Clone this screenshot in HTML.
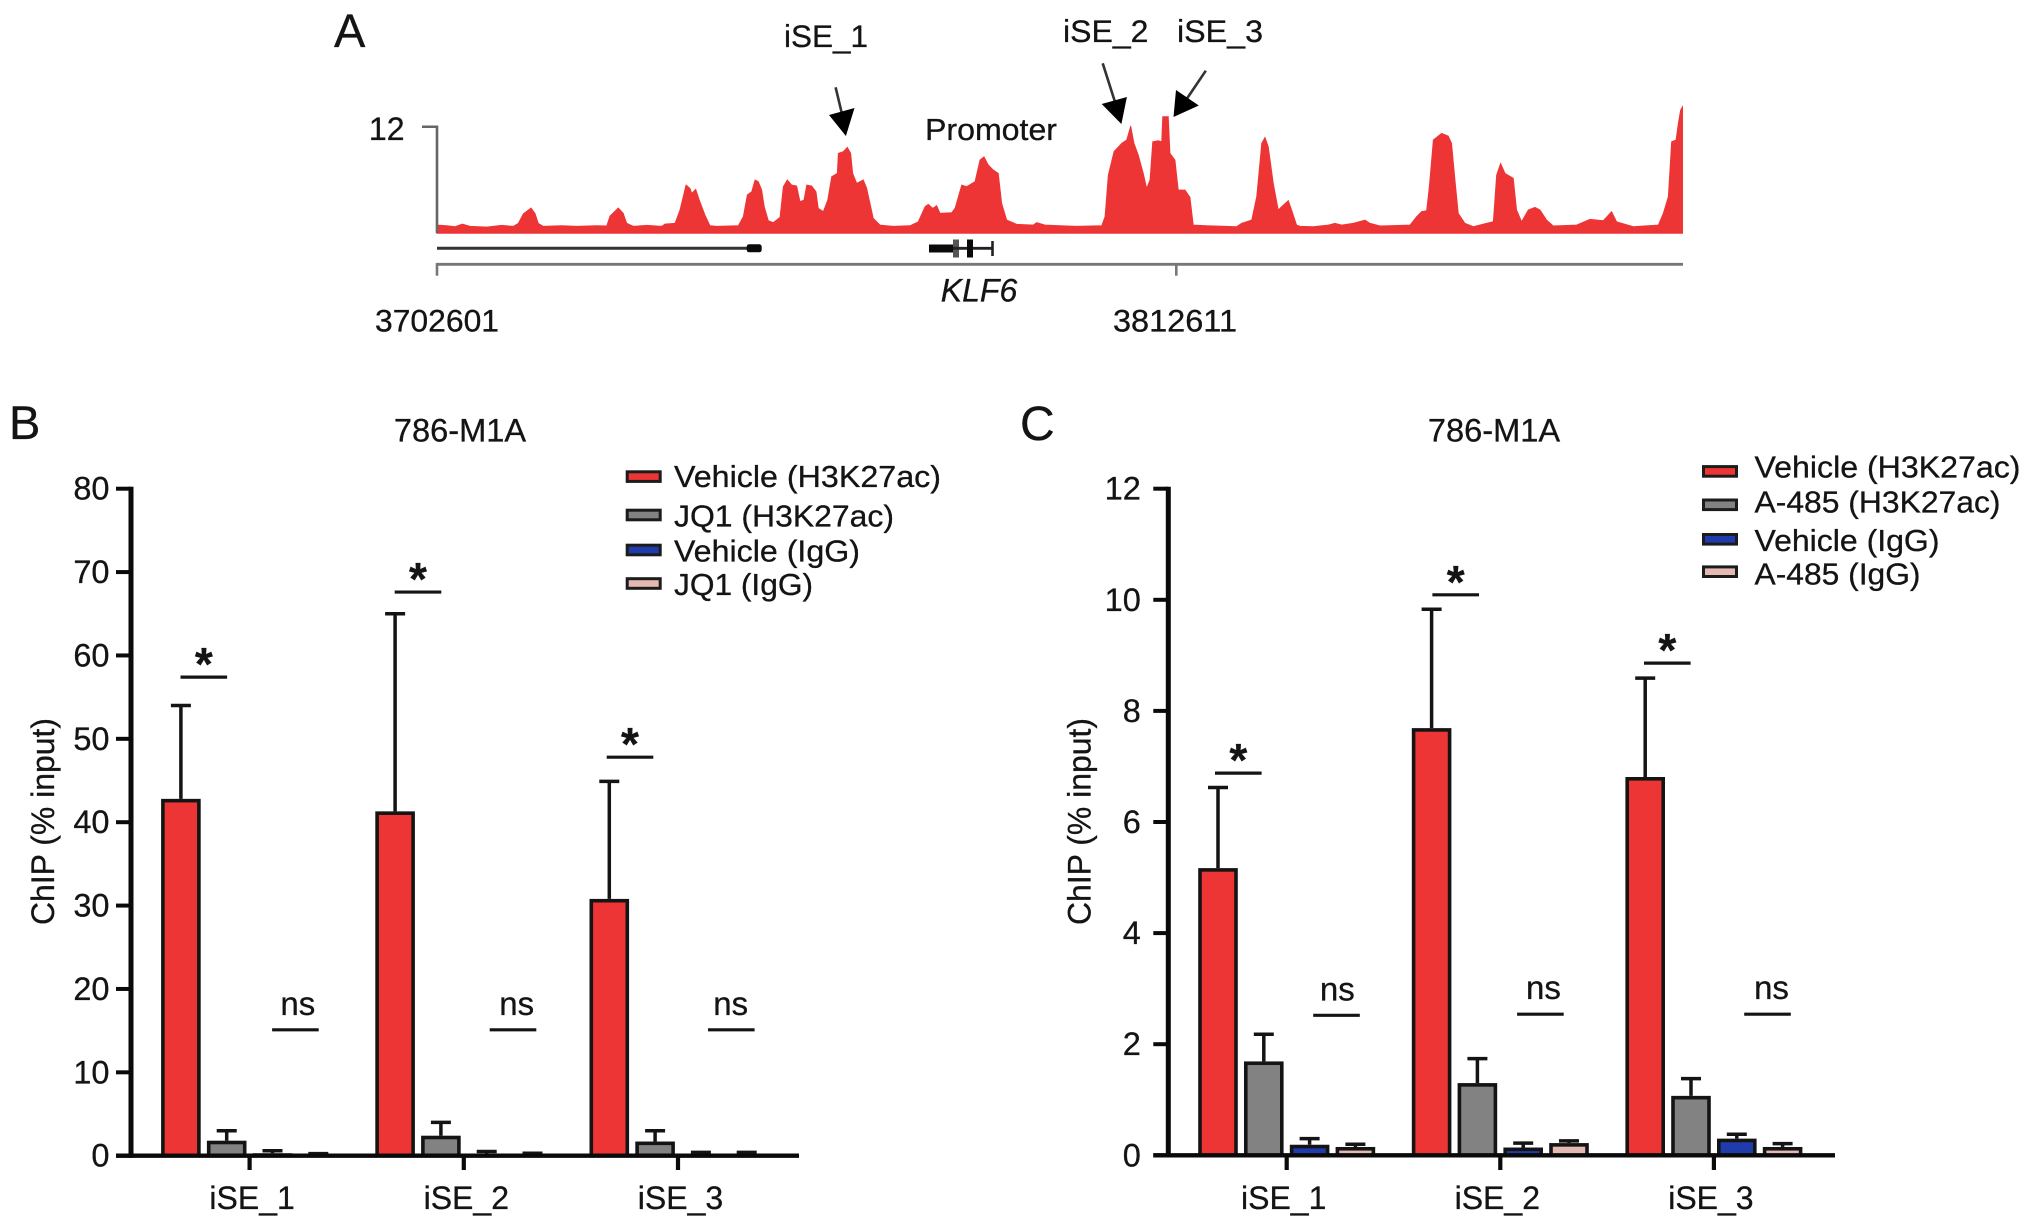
<!DOCTYPE html>
<html lang="en">
<head>
<meta charset="utf-8">
<title>KLF6 super-enhancer ChIP figure</title>
<style>
html,body{margin:0;padding:0;background:#fff;width:2032px;height:1226px;overflow:hidden}
svg{display:block}
text{font-family:"Liberation Sans",Arial,sans-serif;fill:#141414;stroke:#141414;stroke-width:.3px}
</style>
</head>
<body>
<svg id="figure" xmlns="http://www.w3.org/2000/svg" width="2032" height="1226" viewBox="0 0 2032 1226">
  <rect x="0" y="0" width="2032" height="1226" fill="#fff"/>

  <text x="334" y="47" font-size="47">A</text>
  <text x="9" y="439" font-size="47">B</text>
  <text x="1020" y="440" font-size="48">C</text>

  <g id="track-group">
    <text x="784" y="47" font-size="31.5" textLength="84" lengthAdjust="spacingAndGlyphs">iSE_1</text>
    <text x="1063" y="42" font-size="31.5" textLength="85.5" lengthAdjust="spacingAndGlyphs">iSE_2</text>
    <text x="1177" y="42" font-size="31.5" textLength="86" lengthAdjust="spacingAndGlyphs">iSE_3</text>
    <text x="925" y="140" font-size="31" textLength="132" lengthAdjust="spacingAndGlyphs">Promoter</text>

    <g>
      <line x1="835.6" y1="87.3" x2="842" y2="114" stroke="#333" stroke-width="2.6"/>
      <polygon points="845.9,136 829,115 854.5,108" fill="#000"/>
    </g>
    <g>
      <line x1="1102.7" y1="63.3" x2="1115" y2="102" stroke="#333" stroke-width="2.6"/>
      <polygon points="1121.4,124 1101.7,104 1126.9,97" fill="#000"/>
    </g>
    <g>
      <line x1="1205.8" y1="70.7" x2="1186" y2="100" stroke="#333" stroke-width="2.6"/>
      <polygon points="1173.5,117 1176,90 1198.8,105.5" fill="#000"/>
    </g>

    <g>
      <line x1="437" y1="248.3" x2="750" y2="248.3" stroke="#333" stroke-width="3"/>
      <rect x="746.7" y="244.3" width="15" height="8" rx="2.5" fill="#0a0a0a"/>
    </g>
    <g>
      <rect x="929" y="244.5" width="25" height="8" fill="#0a0a0a"/>
      <rect x="953" y="239.5" width="6" height="18" fill="#555"/>
      <line x1="953" y1="248.3" x2="992" y2="248.3" stroke="#222" stroke-width="2.8"/>
      <rect x="967" y="239.5" width="6" height="18" fill="#0a0a0a"/>
      <line x1="992.5" y1="241" x2="992.5" y2="256" stroke="#222" stroke-width="2.6"/>
    </g>

    <g>
      <line x1="437" y1="264.3" x2="1683" y2="264.3" stroke="#777" stroke-width="2.8"/>
      <line x1="437" y1="263" x2="437" y2="275.7" stroke="#777" stroke-width="2.6"/>
      <line x1="1176.3" y1="264" x2="1176.3" y2="275.7" stroke="#777" stroke-width="2.6"/>
    </g>
    <text x="437" y="331.7" font-size="31.5" text-anchor="middle" textLength="124" lengthAdjust="spacingAndGlyphs">3702601</text>
    <text x="1175" y="331.7" font-size="31.5" text-anchor="middle" textLength="124" lengthAdjust="spacingAndGlyphs">3812611</text>
    <text x="979" y="301.7" font-size="32" font-style="italic" text-anchor="middle">KLF6</text>
  </g>

  <g id="panel-b"></g>
  <g id="panel-c"></g>
</svg>

<script>
/* ---------- Panel A: coverage track data ---------- */
const trackStart = 3702601;
const trackMid = 3812611;
const trackBinSize = 49.6;
const trackMaxLabel = 12;
const trackBins = [0,29,54,76,99,149,194,229,244,259,282,294,304,319,374,419,479,509,519,544,559,569,589,629,674,684,714,729,747,759,764,776,787,804,819,839,904,919,931,944,954,964,974,982,994,1009,1029,1039,1051,1064,1079,1089,1101,1109,1124,1137,1144,1159,1172,1184,1201,1204,1219,1231,1241,1247,1259,1269,1279,1289,1299,1309,1329,1369,1419,1444,1464,1474,1487,1499,1509,1544,1554,1574,1589,1614,1629,1641,1654,1669,1684,1694,1709,1739,1789,1799,1824,1869,1919,1994,2004,2014,2031,2054,2069,2081,2091,2104,2119,2129,2139,2147,2164,2174,2177,2194,2199,2214,2224,2244,2259,2269,2309,2399,2414,2444,2459,2474,2484,2494,2509,2524,2539,2554,2564,2579,2589,2629,2674,2694,2714,2749,2784,2799,2829,2919,2939,2954,2969,2977,2989,3014,3034,3044,3054,3064,3084,3109,3149,3169,3179,3191,3204,3229,3239,3254,3274,3294,3309,3329,3349,3419,3459,3499,3524,3539,3589,3664,3679,3694,3704,3717,3724,3731,3737];
const trackCoverage = [0.94,0.86,0.75,1.05,0.79,0.71,0.90,0.79,1.13,2.18,2.85,2.25,1.13,0.79,0.86,0.79,0.86,0.83,1.95,2.85,2.25,1.13,0.79,0.90,0.79,1.05,1.13,2.63,5.44,5.07,4.50,4.96,3.75,2.06,0.86,0.79,0.86,1.88,4.32,4.69,6.01,5.82,4.88,3.00,1.43,1.20,1.80,5.26,6.01,5.44,5.33,3.57,3.75,5.44,5.33,4.69,2.82,2.44,3.75,6.38,6.76,9.01,9.20,9.69,9.01,6.76,5.63,5.82,6.01,5.07,3.38,1.69,0.94,0.79,0.86,1.31,3.00,3.27,2.82,3.12,2.25,2.33,2.82,5.44,5.26,5.82,8.26,8.63,7.70,7.13,6.76,3.38,1.50,1.01,0.94,1.20,0.94,0.86,0.79,0.86,1.88,6.57,9.20,10.14,10.51,12.09,10.14,8.82,6.76,5.07,6.01,10.32,10.44,10.32,13.14,13.14,9.01,8.26,4.88,4.88,4.05,0.94,0.86,0.75,1.13,1.50,4.13,10.14,10.81,9.76,5.63,2.63,3.19,3.68,2.63,0.94,0.79,0.75,0.94,1.13,0.94,1.13,1.50,1.13,0.83,0.94,1.88,2.44,2.55,5.26,10.51,11.26,10.96,10.14,6.01,2.25,1.13,0.75,1.13,1.31,6.57,7.88,6.76,6.19,2.63,1.31,2.63,2.93,2.63,1.50,0.83,0.94,1.58,1.43,2.44,1.31,0.75,0.94,2.25,4.13,10.32,10.51,12.39,13.89,14.27];

/* ---------- Panel B data ---------- */
const bCategories = ['iSE_1','iSE_2','iSE_3'];
const bTitle = '786-M1A';
const bTicks = [0,10,20,30,40,50,60,70,80];
const bSeriesNames = ['Vehicle (H3K27ac)','JQ1 (H3K27ac)','Vehicle (IgG)','JQ1 (IgG)'];
const bVehicleAc = [42.8,41.3,30.8];
const bVehicleAcErr = [54.0,65.0,44.9];
const bDrugAc = [1.8,2.4,1.7];
const bDrugAcErr = [3.0,4.0,3.0];
const bVehicleIgG = [0.3,0.2,0.2];
const bVehicleIgGErr = [0.6,0.5,0.4];
const bDrugIgG = [0.1,0.1,0.15];
const bDrugIgGErr = [0.25,0.3,0.4];
const bStarLevels = [57.4,67.6,47.8];
const bNsLevels = [15.1,15.1,15.1];

/* ---------- Panel C data ---------- */
const cCategories = ['iSE_1','iSE_2','iSE_3'];
const cTitle = '786-M1A';
const cTicks = [0,2,4,6,8,10,12];
const cSeriesNames = ['Vehicle (H3K27ac)','A-485 (H3K27ac)','Vehicle (IgG)','A-485 (IgG)'];
const cVehicleAc = [5.17,7.69,6.81];
const cVehicleAcErr = [6.62,9.83,8.59];
const cDrugAc = [1.69,1.30,1.07];
const cDrugAcErr = [2.18,1.74,1.38];
const cVehicleIgG = [0.19,0.14,0.30];
const cVehicleIgGErr = [0.30,0.22,0.38];
const cDrugIgG = [0.15,0.22,0.15];
const cDrugIgGErr = [0.20,0.26,0.21];
const cStarLevels = [6.88,10.09,8.86];
const cNsLevels = [2.52,2.54,2.54];

const seriesColors = ['#ee3535','#828282','#1f3caa','#e3b9b2'];
const NS = 'http://www.w3.org/2000/svg';

function mk(tag, attrs, parent) {
  const el = document.createElementNS(NS, tag);
  for (const k in attrs) el.setAttribute(k, attrs[k]);
  parent.appendChild(el);
  return el;
}

/* ---------- Draw coverage track ---------- */
(function drawTrack() {
  const parent = document.getElementById('track-group');
  const x = pos => 437 + (pos - trackStart) * (1176.3 - 437) / (trackMid - trackStart);
  const y = v => 233.3 - v * 8.88;
  const pts = trackBins.map((b, i) => x(trackStart + b * trackBinSize).toFixed(1) + ',' + y(trackCoverage[i]).toFixed(1));
  const x0 = x(trackStart + trackBins[0] * trackBinSize).toFixed(1);
  const x1 = x(trackStart + trackBins[trackBins.length - 1] * trackBinSize).toFixed(1);
  const area = mk('polygon', {points: x0 + ',' + y(0) + ' ' + pts.join(' ') + ' ' + x1 + ',' + y(0), fill: '#ee3535', stroke: '#ee3535', 'stroke-width': 0.8}, parent);
  
  
  const axis = mk('polyline', {points: '422,' + y(trackMaxLabel) + ' 437,' + y(trackMaxLabel) + ' 437,' + y(0), fill: 'none', stroke: '#666', 'stroke-width': 2.6}, parent);
  
  
  const lab = mk('text', {x: 404.5, y: y(trackMaxLabel) + 13.5, 'font-size': 32, 'text-anchor': 'end'}, parent);
  lab.textContent = String(trackMaxLabel);
  
  
})();

/* ---------- Draw bar panels ---------- */
function drawPanel(root, layout, data) {
  const g = document.getElementById(root);
  const maxTick = data.ticks[data.ticks.length - 1];
  const y = v => layout.y0 + (layout.yTop - layout.y0) * v / maxTick;
  const groupX = i => layout.firstGroup + i * layout.groupStep;
  const barX = (i, s) => groupX(i) + (s - 1.5) * layout.barStep;
  const sw = 3.6;

  const title = mk('text', {x: layout.titleX, y: 441.7, 'font-size': 32.6, 'text-anchor': 'middle'}, g);
  title.textContent = data.title;
  
  

  const yTitle = mk('text', {transform: 'translate(' + layout.yTitleX + ',821.5) rotate(-90)', 'font-size': 32, 'text-anchor': 'middle', textLength: 207, lengthAdjust: 'spacingAndGlyphs'}, g);
  yTitle.textContent = 'ChIP (% input)';
  
  

  data.series.forEach((s, si) => {
    data.categories.forEach((c, i) => {
      const cx = barX(i, si);
      const bar = s.values[i];
      const err = s.errs[i];
      const stem = mk('line', {x1: cx, x2: cx, y1: y(bar), y2: y(err), stroke: '#141414', 'stroke-width': 3.5}, g);
      
      
      const cap = mk('line', {x1: cx - 10, x2: cx + 10, y1: y(err), y2: y(err), stroke: '#141414', 'stroke-width': 3.5}, g);
      
      
      const top = y(bar) + sw / 2;
      const rect = mk('rect', {x: cx - 19.8 + sw / 2, y: top, width: 39.6 - sw, height: Math.max(0, layout.y0 - top), fill: seriesColors[si], stroke: '#141414', 'stroke-width': sw}, g);
      
      
    });
  });

  const yAxis = mk('line', {x1: layout.axisX, x2: layout.axisX, y1: y(maxTick) - 2, y2: layout.y0 + 2, stroke: '#0a0a0a', 'stroke-width': 5}, g);
  
  
  const xAxis = mk('line', {x1: layout.axisX - 15, x2: layout.axisEnd, y1: layout.y0, y2: layout.y0, stroke: '#0a0a0a', 'stroke-width': 4.4}, g);
  
  

  data.ticks.forEach(t => {
    const tick = mk('line', {x1: layout.axisX - 15, x2: layout.axisX, y1: y(t), y2: y(t), stroke: '#0a0a0a', 'stroke-width': 4}, g);
    
    
    const lab = mk('text', {x: layout.axisX - layout.tickLabelGap, y: y(t) + 11, 'font-size': 32.5, 'text-anchor': 'end'}, g);
    lab.textContent = String(t);
    
    
  });

  data.categories.forEach((c, i) => {
    const tx = groupX(i);
    const tick = mk('line', {x1: tx, x2: tx, y1: layout.y0, y2: 1170, stroke: '#0a0a0a', 'stroke-width': 4.2}, g);
    
    
    const lab = mk('text', {x: tx + layout.labelShift, y: 1209, 'font-size': 32, 'text-anchor': 'middle'}, g);
    lab.textContent = c;
    
    

    const sy = y(data.stars[i]);
    const starMid = (barX(i, 0) + barX(i, 1)) / 2 + layout.starShift[i];
    const sLine = mk('line', {x1: starMid - 23.3, x2: starMid + 23.3, y1: sy, y2: sy, stroke: '#141414', 'stroke-width': 3.2}, g);
    
    
    const star = mk('text', {x: starMid, y: sy + 3, 'font-size': 46, 'font-weight': 'bold', 'text-anchor': 'middle'}, g);
    star.textContent = '*';
    
    

    const ny = y(data.ns[i]);
    const nsMid = (barX(i, 2) + barX(i, 3)) / 2 + layout.nsShift[i];
    const nLine = mk('line', {x1: nsMid - 23.3, x2: nsMid + 23.3, y1: ny, y2: ny, stroke: '#141414', 'stroke-width': 3.2}, g);
    
    
    const ns = mk('text', {x: nsMid + layout.nsTextShift[i], y: ny - 15, 'font-size': 33, 'text-anchor': 'middle'}, g);
    ns.textContent = 'ns';
    
    
  });

  data.names.forEach((name, i) => {
    const cy = layout.legendY[i];
    const sw2 = mk('rect', {x: layout.legendX + 1.5, y: cy - 4.8, width: layout.legendW - 3, height: 9.6, fill: seriesColors[i], stroke: '#1c1c1c', 'stroke-width': 3}, g);
    
    
    const t = mk('text', {x: layout.legendTextX, y: layout.legendBase[i], 'font-size': 31, textLength: layout.legendWidths[i], lengthAdjust: 'spacingAndGlyphs'}, g);
    t.textContent = name;
    
    
  });
}

drawPanel('panel-b', {
  axisX: 131, axisEnd: 799, y0: 1155.7, yTop: 488.7,
  firstGroup: 249.6, groupStep: 214.2, barStep: 45.8,
  titleX: 460, yTitleX: 54, tickLabelGap: 21.5, labelShift: 2.5,
  starShift: [0, 0, -2.2], nsShift: [0, 3.4, 7.5], nsTextShift: [2.4, 3.7, -0.6],
  legendX: 625.7, legendW: 36, legendTextX: 674,
  legendY: [476.6, 515, 550, 583.5],
  legendBase: [487, 526.5, 561.5, 595],
  legendWidths: [267, 220, 186, 139]
}, {
  title: bTitle, ticks: bTicks, categories: bCategories, names: bSeriesNames,
  stars: bStarLevels, ns: bNsLevels,
  series: [
    {values: bVehicleAc, errs: bVehicleAcErr},
    {values: bDrugAc, errs: bDrugAcErr},
    {values: bVehicleIgG, errs: bVehicleIgGErr},
    {values: bDrugIgG, errs: bDrugIgGErr}
  ]
});

drawPanel('panel-c', {
  axisX: 1168.3, axisEnd: 1835, y0: 1155.3, yTop: 488.7,
  firstGroup: 1286.7, groupStep: 213.6, barStep: 45.8,
  titleX: 1494, yTitleX: 1090.7, tickLabelGap: 27.5, labelShift: -3,
  starShift: [-2.6, 1.2, -0.8], nsShift: [4, -5.7, 7.8], nsTextShift: [0.8, 3, 4],
  legendX: 1702, legendW: 36, legendTextX: 1754.5,
  legendY: [471.4, 504.8, 539.3, 571.7],
  legendBase: [477.6, 512.5, 551, 584.5],
  legendWidths: [266, 246, 185, 166]
}, {
  title: cTitle, ticks: cTicks, categories: cCategories, names: cSeriesNames,
  stars: cStarLevels, ns: cNsLevels,
  series: [
    {values: cVehicleAc, errs: cVehicleAcErr},
    {values: cDrugAc, errs: cDrugAcErr},
    {values: cVehicleIgG, errs: cVehicleIgGErr},
    {values: cDrugIgG, errs: cDrugIgGErr}
  ]
});
</script>
</body>
</html>
